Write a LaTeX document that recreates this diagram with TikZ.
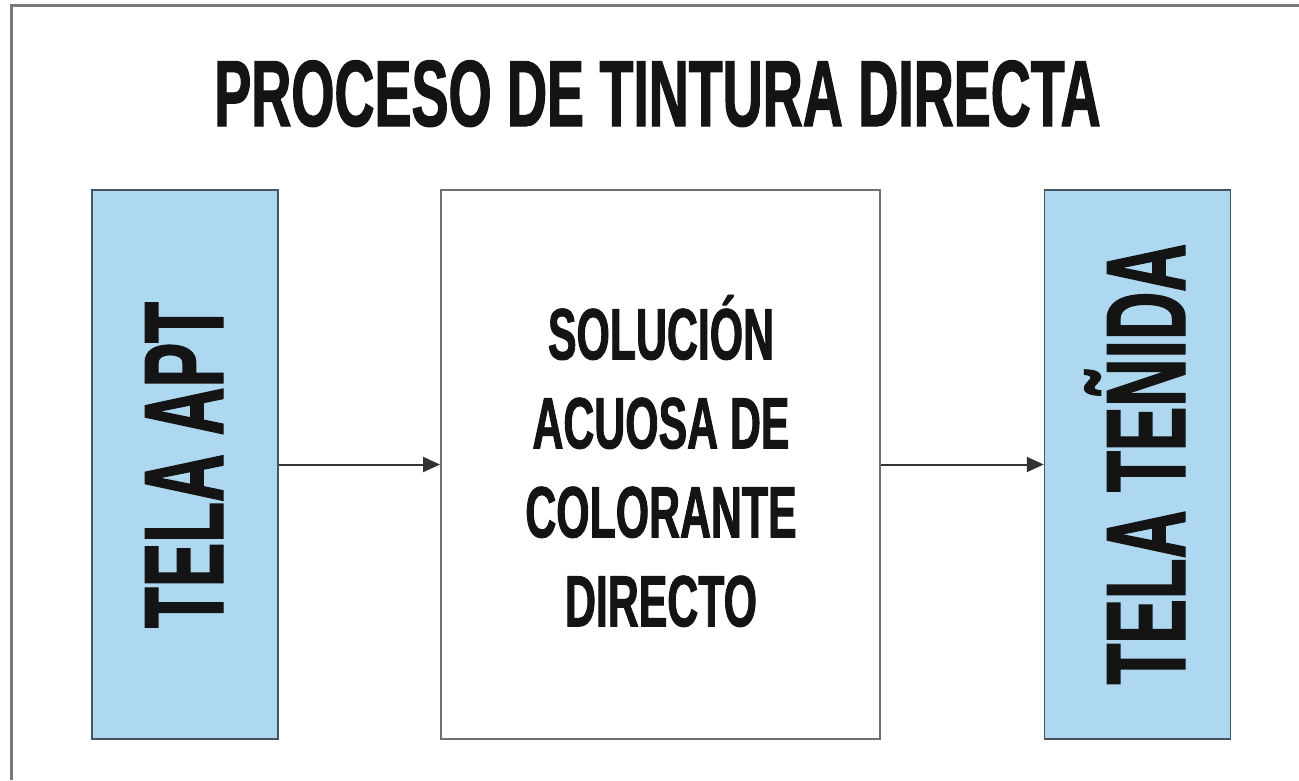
\documentclass[tikz,border=0pt]{standalone}
\usepackage{fontspec}
\usetikzlibrary{arrows.meta}
\newfontfamily\condfont[FakeStretch=0.59,BoldFeatures={FakeStretch=0.59,FakeBold=1.2}]{Liberation Sans}
\definecolor{boxblue}{RGB}{173,216,239}
\definecolor{boxedge}{RGB}{70,84,98}
\definecolor{midedge}{RGB}{112,112,112}
\definecolor{frameg}{RGB}{120,120,120}
\definecolor{ink}{RGB}{20,20,20}
\definecolor{arrowc}{RGB}{50,50,50}
\tikzset{
  bluebox/.style={draw=boxedge,line width=1.5pt,fill=boxblue,minimum width=186pt,minimum height=549pt,inner sep=0pt},
  whitebox/.style={draw=midedge,line width=2pt,fill=white,minimum width=439pt,minimum height=549pt,inner sep=0pt},
  sidelabel/.style={rotate=90,anchor=base,inner sep=0pt,text=ink,font=\condfont\bfseries\fontsize{113}{116}\selectfont},
  midlabel/.style={align=center,inner sep=0pt,text=ink,font=\condfont\bfseries\fontsize{72.6}{89}\selectfont},
  titlelabel/.style={anchor=base,inner sep=0pt,text=ink,font=\condfont\bfseries\fontsize{94}{100}\selectfont},
  flow/.style={draw=arrowc,line width=2pt,-{Triangle[length=17pt,width=15pt]}},
  frameline/.style={draw=frameg,line width=3pt}
}
\begin{document}
\begin{tikzpicture}[x=1pt,y=-1pt]
\useasboundingbox (0,0) rectangle (1299,780);
\fill[white] (0,0) rectangle (1299,780);
\coordinate (fl) at (11,780);
\coordinate (fc) at (11,5);
\coordinate (fr) at (1299,5);
\draw[frameline] (fl) -- (fc) -- (fr);
\node[titlelabel] (title) at (657.5,126) {PROCESO DE TINTURA DIRECTA};
\node[bluebox] (apt) at (185,464.5) {};
\node[whitebox] (sol) at (660.5,464.5) {};
\node[bluebox] (tenida) at (1137.5,464.5) {};
\node[sidelabel] (aptlabel) at (223,465) {TELA APT};
\node[sidelabel] (tenidalabel) at (1185,464) {TELA TEÑIDA};
\node[midlabel] (sollabel) at (661,461) {SOLUCIÓN\\ACUOSA DE\\COLORANTE\\DIRECTO};
\draw[flow] (apt.east) -- (sol.west);
\draw[flow] (sol.east) -- (tenida.west);
\end{tikzpicture}
\end{document}
